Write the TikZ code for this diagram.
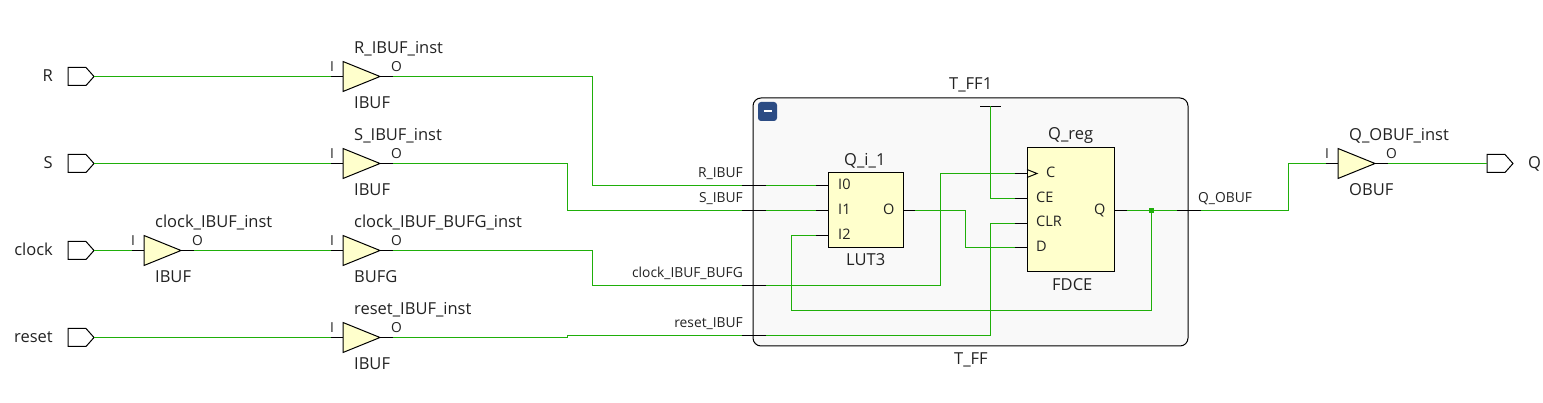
\documentclass[tikz,border=0pt]{standalone}
\usepackage{fontspec}
\setmainfont{Open Sans}
\usepackage{xcolor}
\definecolor{netgreen}{HTML}{1FAF0A}
\definecolor{cellfill}{HTML}{FFFFCC}
\definecolor{txtgray}{HTML}{222222}
\definecolor{hierfill}{HTML}{F9F9F9}
\definecolor{btnblue}{HTML}{2C4C84}
\usetikzlibrary{positioning}
\tikzset{
    net/.style={draw=netgreen,line width=1pt},
    pin/.style={draw=black,line width=1pt},
    cellbox/.style={draw=black,fill=cellfill,line width=1pt,inner sep=0pt},
    big/.style={text=txtgray,inner sep=0pt,anchor=base west,font=\fontsize{16.5}{17}\selectfont},
    small/.style={text=txtgray,inner sep=0pt,anchor=base west,font=\fontsize{13.8}{14}\selectfont},
    mid/.style={text=txtgray,inner sep=0pt,anchor=base west,font=\fontsize{14.5}{15}\selectfont}
}
% name, x, y, instance, type
\newcommand{\bufcell}[5]{
    \coordinate (#1-i) at (#2-12,#3);
    \coordinate (#1-o) at (#2+50,#3);
    \draw[pin] (#1-i) -- (#1-o);
    \draw[cellbox] (#2,#3-15) -- (#2+37,#3) -- (#2,#3+15) -- cycle;
    \node[big] (#1-inst) at (#2+11,#3-22.5) {#4};
    \node[big] (#1-type) at (#2+11,#3+32.5) {#5};
    \node[small] (#1-ilab) at (#2-13,#3-4.5) {I};
    \node[small] (#1-olab) at (#2+48,#3-4.5) {O};
}
% name, x, y
\newcommand{\portcell}[3]{
    \coordinate (#1) at (#2,#3);
    \coordinate (#1-tip) at (#2+26,#3);
    \draw[pin,fill=white] (#2,#3-9) -- (#2+18,#3-9) -- (#1-tip) -- (#2+18,#3+9) -- (#2,#3+9) -- cycle;
}

\begin{document}
\begin{tikzpicture}[x=1pt,y=-1pt]
    \useasboundingbox (0,0) rectangle (1543,403);

    % hierarchy box
    \node[draw=black,fill=hierfill,line width=1pt,rounded corners=8pt,inner sep=0pt,minimum width=435pt,minimum height=248pt] (tff) at (970.5,222) {};
    \node[fill=btnblue,rounded corners=3pt,inner sep=0pt,minimum width=19pt,minimum height=19pt] (collapse) at (767.5,111.5) {};
    \draw[white,line width=2pt] ([xshift=-4pt]collapse.center) -- ([xshift=4pt]collapse.center);
    \node[big] (tfftop) at (949,90) {T\_FF1};
    \node[big] (tffbot) at (954,365) {T\_FF};

    % ports
    \portcell{rport}{68}{76.5}
    \portcell{sport}{68}{163.5}
    \portcell{clkport}{68}{250.5}
    \portcell{rstport}{68}{337.5}
    \portcell{qport}{1487}{163.5}
    \node[big,anchor=base east] (rlab) at (53,82) {R};
    \node[big,anchor=base east] (slab) at (53,169) {S};
    \node[big,anchor=base east] (clklab) at (53,256) {clock};
    \node[big,anchor=base east] (rstlab) at (53,343) {reset};
    \node[big] (qlab) at (1528,169) {Q};

    % buffers
    \bufcell{rbuf}{343}{76.5}{R\_IBUF\_inst}{IBUF}
    \bufcell{sbuf}{343}{163.5}{S\_IBUF\_inst}{IBUF}
    \bufcell{clkbuf}{144}{250.5}{clock\_IBUF\_inst}{IBUF}
    \bufcell{bufg}{343}{250.5}{clock\_IBUF\_BUFG\_inst}{BUFG}
    \bufcell{rstbuf}{343}{337.5}{reset\_IBUF\_inst}{IBUF}
    \bufcell{qbuf}{1338}{163.5}{Q\_OBUF\_inst}{OBUF}

    % boundary pins of the hierarchy box
    \coordinate (ri) at (741.5,185.5);   \coordinate (rin) at (766,185.5);
    \coordinate (si) at (741.5,210.5);   \coordinate (sin) at (766,210.5);
    \coordinate (ci) at (741.5,285.5);   \coordinate (cin) at (766,285.5);
    \coordinate (ti) at (741.5,335.5);   \coordinate (tin) at (766,335.5);
    \coordinate (qi) at (1177,210.5);    \coordinate (qo) at (1201,210.5);
    \foreach \a/\b in {ri/rin,si/sin,ci/cin,ti/tin,qi/qo}
        \draw[pin] (\a) -- (\b);

    % cell pins
    \coordinate (i0) at (816,185.5);   \coordinate (i1) at (816,210.5);
    \coordinate (i2) at (816,235.5);   \coordinate (lo) at (915,210.5);
    \coordinate (fc) at (1015,173.5);  \coordinate (fce) at (1015,198.5);
    \coordinate (fclr) at (1015,223.5); \coordinate (fd) at (1015,247.5);
    \coordinate (fq) at (1127,210.5);
    \draw[pin] (i0) -- ++(12,0);
    \draw[pin] (i1) -- ++(12,0);
    \draw[pin] (i2) -- ++(12,0);
    \draw[pin] (lo) -- ++(-12,0);
    \draw[pin] (fc) -- ++(12,0);
    \draw[pin] (fce) -- ++(12,0);
    \draw[pin] (fclr) -- ++(12,0);
    \draw[pin] (fd) -- ++(12,0);
    \draw[pin] (fq) -- ++(-12,0);

    % turning points
    \coordinate (rturn) at (592.5,185.5);
    \coordinate (sturn) at (567.5,210.5);
    \coordinate (cturn) at (592.5,285.5);
    \coordinate (tturn) at (567.5,335.5);
    \coordinate (cup) at (940.5,173.5);
    \coordinate (clrup) at (990.5,223.5);
    \coordinate (dturn) at (965.5,247.5);
    \coordinate (ceup) at (990.5,198.5);
    \coordinate (fbturn) at (1151.5,310.5);
    \coordinate (fbup) at (791.5,235.5);
    \coordinate (qturn) at (1288.5,163.5);

    % nets
    \draw[net] (rport-tip) -- (rbuf-i);
    \draw[net] (sport-tip) -- (sbuf-i);
    \draw[net] (clkport-tip) -- (clkbuf-i);
    \draw[net] (clkbuf-o) -- (bufg-i);
    \draw[net] (rstport-tip) -- (rstbuf-i);
    \draw[net] (rbuf-o) -| (rturn) -- (ri);
    \draw[net] (sbuf-o) -| (sturn) -- (si);
    \draw[net] (bufg-o) -| (cturn) -- (ci);
    \draw[net] (rstbuf-o) -| (tturn) -- (ti);
    \draw[net] (rin) -- (i0);
    \draw[net] (sin) -- (i1);
    \draw[net] (cin) -| (cup) -- (fc);
    \draw[net] (tin) -| (clrup) -- (fclr);
    \draw[net] (lo) -| (dturn) |- (fd);
    \coordinate (tbar) at (990.5,106.5);
    \draw[pin] ([xshift=-10.5pt]tbar) -- ([xshift=10.5pt]tbar);
    \draw[net] (tbar) |- (fce);
    \draw[net] (fq) -- (qi);
    \draw[net] (qo) -| (qturn) -- (qbuf-i);
    \draw[net] (qbuf-o) -- (qport);
    \node[fill=netgreen,inner sep=0pt,minimum size=5pt] (qdot) at (1151.5,210.5) {};
    \draw[net] (qdot) |- (fbturn) -| (fbup) -- (i2);

    % cells
    \node[cellbox,minimum width=75pt,minimum height=75pt] (lut) at (865.5,210.5) {};
    \node[cellbox,minimum width=87pt,minimum height=124pt] (fdce) at (1070.5,210) {};
    \draw[pin] (1027,169.5) -- (1037,173.5) -- (1027,177.5);

    \node[big] (lutinst) at (844,166) {Q\_i\_1};
    \node[big] (luttype) at (846,266) {LUT3};
    \node[big] (fdinst) at (1048,140) {Q\_reg};
    \node[big] (fdtype) at (1052,291) {FDCE};

    \node[mid] (li0) at (838,190) {I0};
    \node[mid] (li1) at (838,215) {I1};
    \node[mid] (li2) at (838,240) {I2};
    \node[mid] (lol) at (883,215) {O};
    \node[mid] (fcl) at (1046,178) {C};
    \node[mid] (fcel) at (1036,203) {CE};
    \node[mid] (fclrl) at (1036,227) {CLR};
    \node[mid] (fdl) at (1036,252) {D};
    \node[mid] (fql) at (1094,215) {Q};

    % net names
    \node[small,anchor=base east] (rnet) at (743,178) {R\_IBUF};
    \node[small,anchor=base east] (snet) at (743,203) {S\_IBUF};
    \node[small,anchor=base east] (cnet) at (743,278) {clock\_IBUF\_BUFG};
    \node[small,anchor=base east] (tnet) at (743,328) {reset\_IBUF};
    \node[small] (qnet) at (1198,203) {Q\_OBUF};
\end{tikzpicture}
\end{document}
